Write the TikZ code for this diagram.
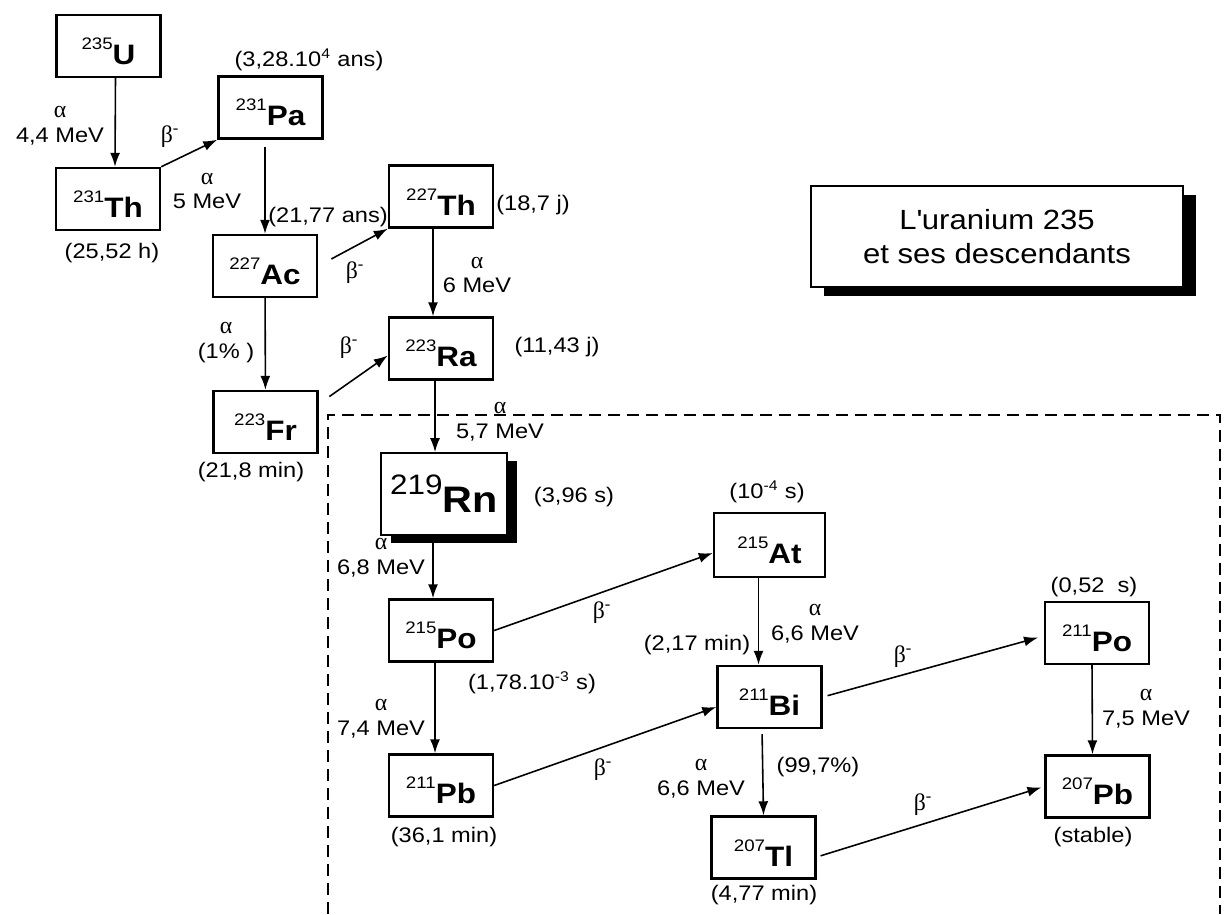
\documentclass[tikz,border=0pt]{standalone}
\usepackage{fontspec}
\setmainfont{Liberation Sans}[FakeStretch=1.12]
\newfontfamily\greekfont{Liberation Serif}
\usetikzlibrary{arrows.meta, shadows}

\newcommand{\nuc}[2]{\raisebox{8.5pt}{\fontsize{9.5}{10}\selectfont #1}{\fontsize{16}{18}\selectfont\bfseries #2}}
\newcommand{\bignuc}[2]{\raisebox{10.2pt}{\fontsize{16}{18}\selectfont #1}{\fontsize{21}{24}\selectfont\bfseries #2}}
\newcommand{\decayalpha}{{\greekfont\fontsize{13.5}{14.2}\selectfont α}}
\newcommand{\decaybeta}{{\greekfont\fontsize{13.5}{14.2}\selectfont β\textsuperscript{-}}}

\begin{document}
\begin{tikzpicture}
[
x = 0.02cm, y = -0.02cm,
nuclide/.style = {rectangle, draw, line width = 1.4pt, fill = white, minimum width = 2.08cm, minimum height = 1.24cm, inner sep = 0pt, text height = 0.74cm},
    info/.style = {font = \fontsize{12}{14.2}\selectfont, align = center, inner sep = 0pt},
   decay/.style = {-{Latex[length = 0.28cm, width = 0.2cm]}, line width = 0.9pt},
   frame/.style = {line width = 0.9pt, dash pattern = on 0.24cm off 0.14cm}
]
    \useasboundingbox (0,0) rectangle (1226,914);

    % chain above the box
    \node[nuclide] (u235) at (108.5,46) {\nuc{235}{U}};
    \node[nuclide] (th231) at (108,199) {\nuc{231}{Th}};
    \node[nuclide] (pa231) at (270.5,107.5) {\nuc{231}{Pa}};
    \node[nuclide] (ac227) at (265,266) {\nuc{227}{Ac}};
    \node[nuclide] (th227) at (441,196.5) {\nuc{227}{Th}};
    \node[nuclide] (ra223) at (441,348.5) {\nuc{223}{Ra}};
    \node[nuclide] (fr223) at (265.5,422) {\nuc{223}{Fr}};

    % chain inside the box
    \draw[frame] (328,914) -- (328,415) -- (1220,415) -- (1220,914);
    \node[nuclide, line width = 1pt, minimum width = 2.52cm, minimum height = 1.64cm, drop shadow = {shadow xshift = 0.2cm, shadow yshift = -0.16cm, fill = black, opacity = 1}] (rn219) at (444,494) {\bignuc{219}{Rn}};
    \node[nuclide] (po215) at (441,630.5) {\nuc{215}{Po}};
    \node[nuclide, minimum width = 2.22cm, minimum height = 1.28cm] (at215) at (769.5,545) {\nuc{215}{At}};
    \node[nuclide] (bi211) at (769.5,697) {\nuc{211}{Bi}};
    \node[nuclide] (pb211) at (441,785.5) {\nuc{211}{Pb}};
    \node[nuclide] (tl207) at (763.5,847.5) {\nuc{207}{Tl}};
    \node[nuclide] (po211) at (1097,633) {\nuc{211}{Po}};
    \node[nuclide] (pb207) at (1097.5,786.5) {\nuc{207}{Pb}};

    \node[rectangle, draw, line width = 1pt, fill = white, minimum width = 7.44cm, minimum height = 2.02cm, align = center, font = \fontsize{15.8}{19.8}\selectfont, drop shadow = {shadow xshift = 0.26cm, shadow yshift = -0.18cm, fill = black, opacity = 1}] (title) at (997,236.5) {L\textquotesingle uranium 235\\et ses descendants};

    % half-lives
    \node[info] (t-th231) at (112,253) {(25,52 h)};
    \node[info] (t-pa231) at (309,60) {(3,28.10\textsuperscript{4} ans)};
    \node[info] (t-ac227) at (328,217) {(21,77 ans)};
    \node[info] (t-th227) at (533,205) {(18,7 j)};
    \node[info] (t-ra223) at (557,347) {(11,43 j)};
    \node[info] (t-fr223) at (251,472) {(21,8 min)};
    \node[info] (t-rn219) at (574,497) {(3,96 s)};
    \node[info] (t-at215) at (767,492) {(10\textsuperscript{-4} s)};
    \node[info] (t-po215) at (532,683) {(1,78.10\textsuperscript{-3} s)};
    \node[info] (t-bi211) at (697,645) {(2,17 min)};
    \node[info] (t-po211) at (1094,587) {(0,52\ \ s)};
    \node[info] (t-pb211) at (444,837) {(36,1 min)};
    \node[info] (t-tl207) at (764,895) {(4,77 min)};
    \node[info] (t-pb207) at (1093,837) {(stable)};

    % decay labels
    \node[info] (a-u235) at (60,126) {\decayalpha\\4,4 MeV};
    \node[info] (a-pa231) at (207,191) {\decayalpha\\5 MeV};
    \node[info] (a-th227) at (477,275) {\decayalpha\\6 MeV};
    \node[info] (a-ac227) at (226,343) {\decayalpha\\(1\% )};
    \node[info] (a-ra223) at (500,422) {\decayalpha\\5,7 MeV};
    \node[info] (a-rn219) at (381,558) {\decayalpha\\6,8 MeV};
    \node[info] (a-po215) at (381,719) {\decayalpha\\7,4 MeV};
    \node[info] (a-at215) at (815,624) {\decayalpha\\6,6 MeV};
    \node[info] (a-po211) at (1146,709) {\decayalpha\\7,5 MeV};
    \node[info] (a-bi211) at (701,779) {\decayalpha\\6,6 MeV};
    \node[info] (p-bi211) at (818,767) {(99,7\%)};
    \node[info] (b-th231) at (170,137) {\decaybeta};
    \node[info] (b-ac227) at (355,273) {\decaybeta};
    \node[info] (b-fr223) at (349,348) {\decaybeta};
    \node[info] (b-po215) at (602,613) {\decaybeta};
    \node[info] (b-bi211) at (903,657) {\decaybeta};
    \node[info] (b-pb211) at (603,770) {\decaybeta};
    \node[info] (b-tl207) at (923,805) {\decaybeta};

    \draw[decay] ([xshift = 0.14cm]u235.south) -- ([xshift = 0.14cm]th231.north);
    \draw[decay] (th231.north east) -- (pa231.south west);
    \draw[decay, shorten <= 0.14cm] (ac227.north |- pa231.south) -- (ac227.north);
    \draw[decay, shorten <= 0.3cm] (ac227.east) -- (th227.south west);
    \draw[decay] (ac227) -- (fr223);
    \draw[decay] ([xshift = -0.16cm]th227.south) -- ([xshift = -0.16cm]ra223.north);
    \draw[decay, shorten <= 0.26cm] ([yshift = 0.36cm]fr223.east) -- ([yshift = -0.14cm]ra223.west);
    \draw[decay] ([xshift = -0.12cm]ra223.south) -- ([xshift = -0.18cm]rn219.north);
    \draw[decay] ([xshift = -0.22cm]rn219.south) -- ([xshift = -0.16cm]po215.north);
    \draw[decay] (po215.east) -- ([yshift = -0.16cm]at215.west);
    \draw[decay] ([xshift = -0.12cm]po215.south) -- ([xshift = -0.12cm]pb211.north);
    \draw[decay] (pb211.east) -- ([yshift = -0.2cm]bi211.west);
    \draw[decay] ([xshift = -0.22cm]at215.south) -- ([xshift = -0.22cm]bi211.north);
    \draw[decay, shorten <= 0.1cm] ([xshift = -0.15cm]bi211.south) -- (tl207.north);
    \draw[decay, shorten <= 0.1cm, shorten >= 0.12cm] (bi211.east) -- ([yshift = -0.06cm]po211.west);
    \draw[decay, shorten <= 0.08cm, shorten >= 0.06cm] ([yshift = -0.19cm]tl207.east) -- (pb207.west);
    \draw[decay] ([xshift = -0.1cm]po211.south) -- ([xshift = -0.1cm]pb207.north);
\end{tikzpicture}
\end{document}
